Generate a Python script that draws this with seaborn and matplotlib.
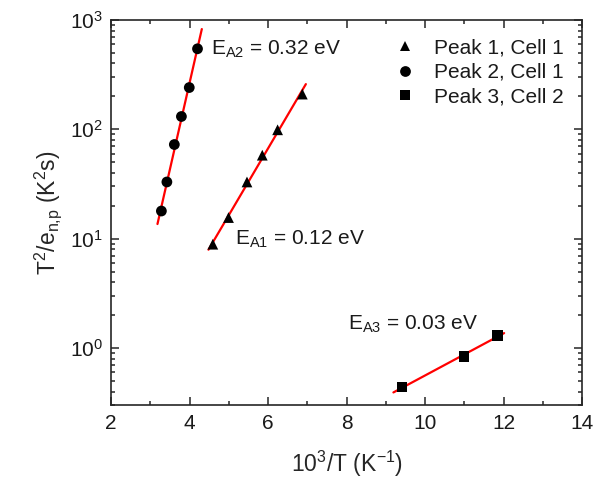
import numpy as np
import pandas as pd
import matplotlib
matplotlib.use('Agg')
import matplotlib.pyplot as plt
import seaborn as sns

# Data (x = 1000/T, y = T^2/e)
peak1_x = [4.59, 4.99, 5.46, 5.85, 6.24, 6.87]
peak1_y = [8.9, 15.6, 33.0, 58.0, 99.0, 210.0]
peak2_x = [3.28, 3.42, 3.61, 3.79, 3.99, 4.20]
peak2_y = [17.9, 33.0, 72.6, 131.0, 241.0, 545.0]
peak3_x = [9.41, 10.99, 11.84]
peak3_y = [0.44, 0.83, 1.31]

series_names = ['Peak 1, Cell 1', 'Peak 2, Cell 1', 'Peak 3, Cell 2']
fit_ranges = [(4.48, 6.96), (3.18, 4.31), (9.19, 12.01)]
energies = ['E$_{\\mathrm{A1}}$ = 0.12 eV', 'E$_{\\mathrm{A2}}$ = 0.32 eV', 'E$_{\\mathrm{A3}}$ = 0.03 eV']
label_pos = [(5.16, 9.9), (4.55, 540), (8.04, 1.65)]

df = pd.concat([
    pd.DataFrame({'x': peak1_x, 'y': peak1_y, 'series': series_names[0]}),
    pd.DataFrame({'x': peak2_x, 'y': peak2_y, 'series': series_names[1]}),
    pd.DataFrame({'x': peak3_x, 'y': peak3_y, 'series': series_names[2]}),
])

sns.set_style('ticks')
plt.rcParams['font.family'] = ['Liberation Sans', 'DejaVu Sans']
plt.rcParams['mathtext.fontset'] = 'custom'
plt.rcParams['mathtext.rm'] = 'Liberation Sans'
plt.rcParams['mathtext.it'] = 'Liberation Sans:italic'
plt.rcParams['mathtext.bf'] = 'Liberation Sans:bold'
plt.rcParams['text.color'] = '#1a1a1a'

fig, ax = plt.subplots(figsize=(6.04, 4.87), dpi=100)
fig.subplots_adjust(left=0.184, right=0.964, top=0.959, bottom=0.168)

# Arrhenius fits (linear in log space)
for name, (x0, x1) in zip(series_names, fit_ranges):
    sub = df[df['series'] == name]
    k, b = np.polyfit(sub['x'], np.log10(sub['y']), 1)
    fx = np.array([x0, x1])
    fit_df = pd.DataFrame({'x': fx, 'y': 10 ** (k * fx + b)})
    sns.lineplot(data=fit_df, x='x', y='y', color='red', lw=1.6, ax=ax, legend=False, zorder=2)

sns.scatterplot(data=df, x='x', y='y', style='series',
                markers={series_names[0]: '^', series_names[1]: 'o', series_names[2]: 's'},
                color='black', s=60, edgecolor='black', linewidth=0, ax=ax, zorder=3)

for txt, (tx, ty) in zip(energies, label_pos):
    ax.text(tx, ty, txt, fontsize=15, va='center', ha='left')

ax.set_yscale('log')
ax.set_xlim(2, 14)
ax.set_ylim(0.3, 1000)
ax.set_xticks([2, 4, 6, 8, 10, 12, 14])
ax.set_xticks([3, 5, 7, 9, 11, 13], minor=True)
ax.tick_params(which='both', direction='in', top=True, right=True, labelsize=15,
               width=1.1, labelcolor='#1a1a1a')
ax.tick_params(which='major', length=6, pad=6)
ax.tick_params(which='minor', length=3)
for sp in ax.spines.values():
    sp.set_linewidth(1.2)

ax.set_xlabel('10$^3$/T (K$^{-1}$)', fontsize=16.5, labelpad=12)
ax.set_ylabel('T$^2$/e$_{\\mathrm{n{,}p}}$ (K$^2$s)', fontsize=16.5, labelpad=4)

handles, labels = ax.get_legend_handles_labels()
pairs = [(h, l) for h, l in zip(handles, labels) if l in series_names]
ax.legend([p[0] for p in pairs], [p[1] for p in pairs], loc='upper right', frameon=False,
          fontsize=15, handlelength=2.0, handletextpad=0.4, labelspacing=0.25,
          borderaxespad=0.6, borderpad=0.3)

fig.savefig('out.png', dpi=100)
